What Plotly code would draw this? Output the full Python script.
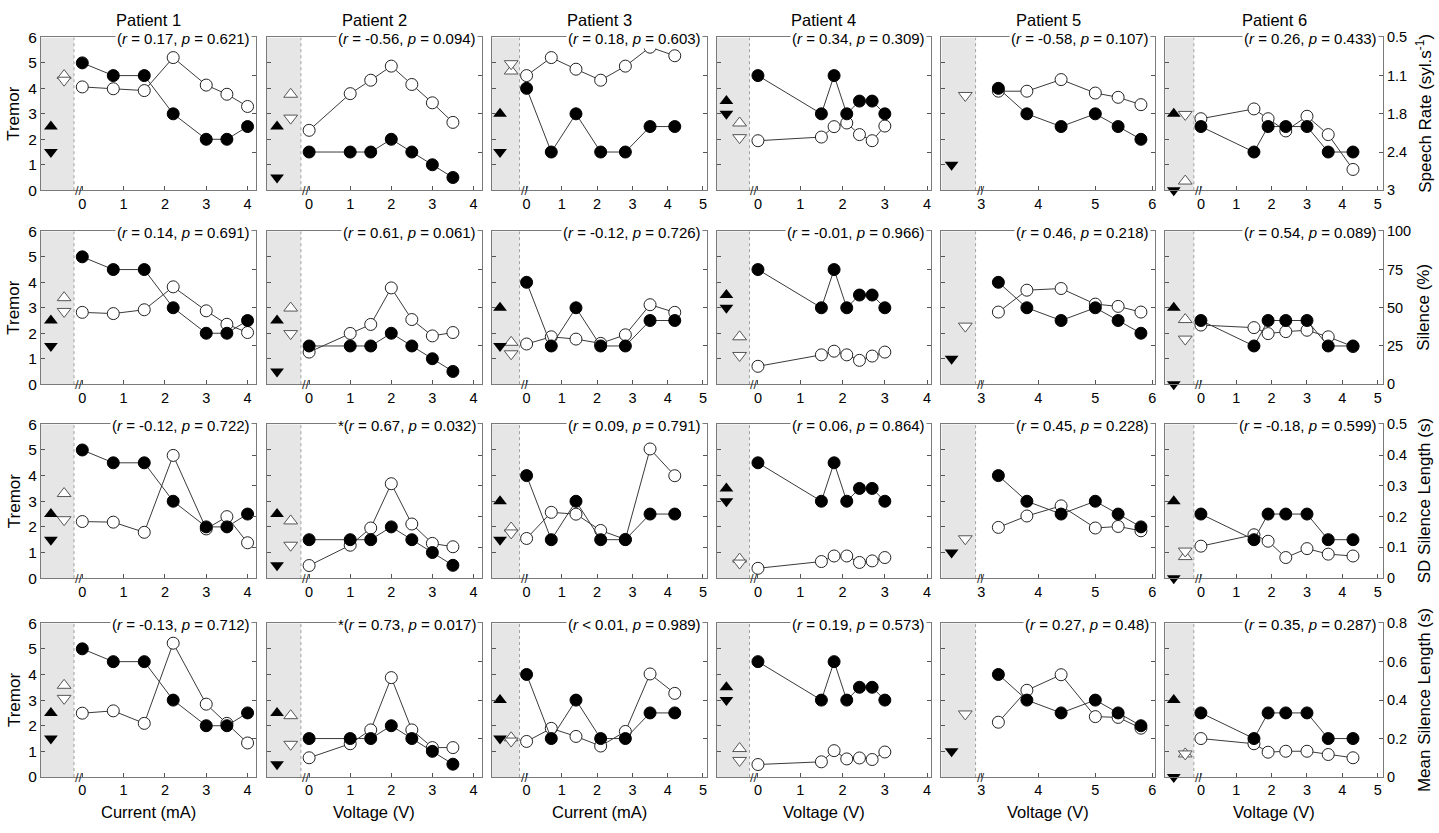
import plotly.graph_objects as go

W, H = 1439, 833

PATIENTS = ['Patient 1', 'Patient 2', 'Patient 3', 'Patient 4', 'Patient 5', 'Patient 6']
X_TITLES = ['Current (mA)', 'Voltage (V)', 'Current (mA)', 'Voltage (V)', 'Voltage (V)', 'Voltage (V)']
ROW_TITLES = ['Speech Rate (syl.s<sup>-1</sup>)', 'Silence (%)', 'SD Silence Length (s)',
              'Mean Silence Length (s)']

# stimulation amplitude per patient
amp_p1 = [0, 0.75, 1.5, 2.2, 3, 3.5, 4]
amp_p2 = [0, 1, 1.5, 2, 2.5, 3, 3.5]
amp_p3 = [0, 0.7, 1.4, 2.1, 2.8, 3.5, 4.2]
amp_p4 = [0, 1.5, 1.8, 2.1, 2.4, 2.7, 3]
amp_p5 = [3.3, 3.8, 4.4, 5.0, 5.4, 5.8]
amp_p6 = [0, 1.5, 1.9, 2.4, 3.0, 3.6, 4.3]
amps = [amp_p1, amp_p2, amp_p3, amp_p4, amp_p5, amp_p6]

# tremor score (filled circles)
tremor_p1 = [5, 4.5, 4.5, 3, 2, 2, 2.5]
tremor_p2 = [1.5, 1.5, 1.5, 2, 1.5, 1, 0.5]
tremor_p3 = [4, 1.5, 3, 1.5, 1.5, 2.5, 2.5]
tremor_p4 = [4.5, 3, 4.5, 3, 3.5, 3.5, 3]
tremor_p5 = [4, 3, 2.5, 3, 2.5, 2]
tremor_p6 = [2.5, 1.5, 2.5, 2.5, 2.5, 1.5, 1.5]
tremors = [tremor_p1, tremor_p2, tremor_p3, tremor_p4, tremor_p5, tremor_p6]

# tremor with stimulation off (filled triangles up / down)
off_tremor_up = [2.5, 2.5, 3, 3.5, None, 3]
off_tremor_down = [1.5, 0.5, 1.5, 3, 1, 0]

# speech measures (open circles), one list per patient
speech_rate = [
    [1.31, 1.34, 1.37, 0.83, 1.28, 1.43, 1.63],
    [2.02, 1.42, 1.20, 0.97, 1.27, 1.57, 1.89],
    [1.125, 0.83, 1.02, 1.20, 0.97, 0.66, 0.80],
    [2.19, 2.13, 1.96, 1.90, 2.09, 2.19, 1.95],
    [1.38, 1.38, 1.19, 1.41, 1.48, 1.60],
    [1.83, 1.67, 1.83, 2.03, 1.79, 2.09, 2.66],
]
speech_rate_off_up = [1.125, 1.43, 1.05, 1.90, None, 2.85]
speech_rate_off_down = [1.20, 1.82, 0.93, 2.14, 1.45, 1.76]

silence = [
    [47, 46.2, 48.7, 63.7, 48, 39.2, 33.8],
    [21, 33.2, 39.1, 63, 42.3, 31.6, 33.8],
    [26.3, 31, 29.5, 26.7, 32.3, 52, 47],
    [11.7, 19.2, 21.6, 19.2, 15.6, 18.4, 21],
    [47.2, 61.5, 62.6, 52.4, 50.9, 47.2],
    [38.7, 37, 33.1, 34.4, 35.3, 31, 24.6],
]
silence_off_up = [56.6, 49.8, 27.4, 31, None, 42.3]
silence_off_down = [47.6, 33.1, 19.9, 18.8, 38, 29.5]

sd_silence = [
    [0.184, 0.182, 0.149, 0.399, 0.16, 0.2, 0.115],
    [0.041, 0.107, 0.163, 0.307, 0.176, 0.113, 0.102],
    [0.129, 0.214, 0.208, 0.155, 0.126, 0.42, 0.333],
    [0.032, 0.054, 0.072, 0.072, 0.051, 0.056, 0.067],
    [0.165, 0.202, 0.235, 0.163, 0.168, 0.154],
    [0.104, 0.141, 0.12, 0.067, 0.096, 0.078, 0.072],
]
sd_silence_off_up = [0.275, 0.186, 0.163, 0.062, None, 0.07]
sd_silence_off_down = [0.19, 0.107, 0.147, 0.049, 0.128, 0.088]

mean_silence = [
    [0.332, 0.344, 0.279, 0.696, 0.379, 0.279, 0.177],
    [0.1, 0.173, 0.245, 0.517, 0.245, 0.153, 0.153],
    [0.185, 0.253, 0.211, 0.161, 0.237, 0.536, 0.435],
    [0.065, 0.079, 0.137, 0.094, 0.099, 0.091, 0.13],
    [0.285, 0.451, 0.532, 0.314, 0.31, 0.254],
    [0.2, 0.173, 0.129, 0.134, 0.134, 0.117, 0.1],
]
mean_silence_off_up = [0.477, 0.319, 0.204, 0.148, None, 0.12]
mean_silence_off_down = [0.409, 0.17, 0.187, 0.086, 0.328, 0.12]

# correlation stats: (significance mark, r, p)
stats_speech_rate = [('', '= 0.17', '0.621'), ('', '= -0.56', '0.094'), ('', '= 0.18', '0.603'),
                     ('', '= 0.34', '0.309'), ('', '= -0.58', '0.107'), ('', '= 0.26', '0.433')]
stats_silence = [('', '= 0.14', '0.691'), ('', '= 0.61', '0.061'), ('', '= -0.12', '0.726'),
                 ('', '= -0.01', '0.966'), ('', '= 0.46', '0.218'), ('', '= 0.54', '0.089')]
stats_sd_silence = [('', '= -0.12', '0.722'), ('*', '= 0.67', '0.032'), ('', '= 0.09', '0.791'),
                    ('', '= 0.06', '0.864'), ('', '= 0.45', '0.228'), ('', '= -0.18', '0.599')]
stats_mean_silence = [('', '= -0.13', '0.712'), ('*', '= 0.73', '0.017'), ('', '< 0.01', '0.989'),
                      ('', '= 0.19', '0.573'), ('', '= 0.27', '0.48'), ('', '= 0.35', '0.287')]

measures = [speech_rate, silence, sd_silence, mean_silence]
measures_off_up = [speech_rate_off_up, silence_off_up, sd_silence_off_up, mean_silence_off_up]
measures_off_down = [speech_rate_off_down, silence_off_down, sd_silence_off_down, mean_silence_off_down]
stats = [stats_speech_rate, stats_silence, stats_sd_silence, stats_mean_silence]

# right axis scales per row
M_RANGE = [[3, 0.5], [0, 100], [0, 0.5], [0, 0.8]]
M_TICKS = [[0.5, 1.125, 1.75, 2.375, 3], [0, 25, 50, 75, 100],
           [0, 0.1, 0.2, 0.3, 0.4, 0.5], [0, 0.2, 0.4, 0.6, 0.8]]
M_TICKTEXT = [['0.5', '1.1', '1.8', '2.4', '3'], ['0', '25', '50', '75', '100'],
              ['0', '0.1', '0.2', '0.3', '0.4', '0.5'], ['0', '0.2', '0.4', '0.6', '0.8']]

# x axis: (left of grey off-panel, axis break, right) in data units, and ticks
X_RANGE = [(-1.0, -0.2, 4.2), (-1.03, -0.2, 4.2), (-0.99, -0.2, 5.1),
           (-0.98, -0.2, 4.1), (2.30, 2.9, 6.05), (-1.01, -0.2, 5.15)]
X_TICKS = [[0, 1, 2, 3, 4], [0, 1, 2, 3, 4], [0, 1, 2, 3, 4, 5],
           [0, 1, 2, 3, 4], [3, 4, 5, 6], [0, 1, 2, 3, 4, 5]]

# layout in pixels
COL_PX = [(41, 256), (267, 482), (492, 707), (717, 932), (942, 1156), (1166, 1384)]
ROW_PX = [(29, 185), (227, 383), (424, 581), (627, 784)]

FONT = 'Arial, Liberation Sans, sans-serif'
LINE_C = '#7a7a7a'
TICK_C = '#555555'
MSIZE = 12

fig = go.Figure()
layout = {}
shapes = []
annotations = []


def sfx(n):
    return '' if n == 1 else str(n)


def label(x_px, y_px, text, size, angle=0):
    return dict(x=x_px / W, y=1 - y_px / H, xref='paper', yref='paper', text=text,
                xanchor='center', yanchor='middle', textangle=angle, showarrow=False,
                font=dict(size=size, color='black'))


for r in range(4):
    for c in range(6):
        k = r * 6 + c + 1
        ym, yt = 2 * k - 1, 2 * k
        xref, ymref, ytref = 'x' + sfx(k), 'y' + sfx(ym), 'y' + sfx(yt)
        x_lo, x_brk, x_hi = X_RANGE[c]
        pl, pr = COL_PX[c]
        top, bot = ROW_PX[r]

        layout['xaxis' + sfx(k)] = dict(
            domain=[pl / W, pr / W], range=[x_lo, x_hi], anchor=ymref,
            tickvals=X_TICKS[c], ticks='inside', ticklen=4, tickcolor=TICK_C,
            showline=True, mirror=True, linecolor=LINE_C, linewidth=1,
            showgrid=False, zeroline=False, tickfont=dict(size=14.5, color='black'))
        layout['yaxis' + sfx(ym)] = dict(
            domain=[1 - bot / H, 1 - top / H], range=M_RANGE[r], anchor=xref, side='right',
            tickvals=M_TICKS[r], ticktext=M_TICKTEXT[r], ticks='inside', ticklen=4,
            tickcolor=TICK_C, showticklabels=(c == 5), showline=True, linecolor=LINE_C,
            showgrid=False, zeroline=False, tickfont=dict(size=14.5, color='black'))
        layout['yaxis' + sfx(yt)] = dict(
            range=[0, 6], overlaying=ymref, anchor=xref, side='left',
            tickvals=[0, 1, 2, 3, 4, 5, 6], ticks='inside', ticklen=4, tickcolor=TICK_C,
            showticklabels=(c == 0), showline=True, linecolor=LINE_C,
            showgrid=False, zeroline=False, tickfont=dict(size=15.5, color='black'))

        # grey "stimulation off" panel
        shapes.append(dict(type='rect', xref=xref, yref=ytref, x0=x_lo, x1=x_brk, y0=0, y1=6,
                           fillcolor='#e6e6e6', line=dict(width=0), layer='below'))
        shapes.append(dict(type='line', xref=xref, yref=ytref, x0=x_brk, x1=x_brk, y0=0, y1=6,
                           line=dict(color='#a0a0a0', width=1, dash='dot'), layer='below'))
        annotations.append(dict(x=x_brk, y=0, xref=xref, yref=ytref, text='//', showarrow=False,
                                xanchor='center', yanchor='middle', xshift=5,
                                font=dict(size=13, color='#333')))

        x_fill = x_lo + 0.3 * (x_brk - x_lo)
        x_open = x_lo + 0.7 * (x_brk - x_lo)

        # open circles: speech measure on right axis
        fig.add_trace(go.Scatter(
            x=amps[c], y=measures[r][c], xaxis=xref, yaxis=ymref, mode='lines+markers',
            line=dict(color='#3a3a3a', width=1),
            marker=dict(symbol='circle', size=MSIZE, color='white', line=dict(color='#222', width=1))))
        for vals, sym in [(measures_off_up[r], 'triangle-up'), (measures_off_down[r], 'triangle-down')]:
            if vals[c] is not None:
                fig.add_trace(go.Scatter(
                    x=[x_open], y=[vals[c]], xaxis=xref, yaxis=ymref, mode='markers',
                    cliponaxis=False,
                    marker=dict(symbol=sym, size=MSIZE, color='white', line=dict(color='#555', width=1))))

        # filled circles: tremor on left axis
        fig.add_trace(go.Scatter(
            x=amps[c], y=tremors[c], xaxis=xref, yaxis=ytref, mode='lines+markers',
            line=dict(color='#3a3a3a', width=1),
            marker=dict(symbol='circle', size=MSIZE, color='black', line=dict(color='black', width=1))))
        for vals, sym in [(off_tremor_up, 'triangle-up'), (off_tremor_down, 'triangle-down')]:
            if vals[c] is not None:
                fig.add_trace(go.Scatter(
                    x=[x_fill], y=[vals[c]], xaxis=xref, yaxis=ytref, mode='markers',
                    cliponaxis=False, marker=dict(symbol=sym, size=MSIZE, color='black')))

        star, rv, pv = stats[r][c]
        annotations.append(dict(
            x=(pr - 4) / W, y=1 - (top + 1) / H, xref='paper', yref='paper',
            xanchor='right', yanchor='middle', showarrow=False, bgcolor='white',
            text='%s(<i>r</i> %s, <i>p</i> = %s)' % (star, rv, pv),
            font=dict(size=15, color='black')))

for c in range(6):
    pl, pr = COL_PX[c]
    annotations.append(label((pl + pr) / 2, 11, PATIENTS[c], 16.5))
    annotations.append(label((pl + pr) / 2, 820, X_TITLES[c], 16.5))

for r in range(4):
    top, bot = ROW_PX[r]
    mid = (top + bot) / 2
    annotations.append(label(14, mid, 'Tremor', 17, -90))
    annotations.append(label(1425, mid, ROW_TITLES[r], 17, -90))

fig.update_layout(**layout)
fig.update_layout(
    width=W, height=H, margin=dict(l=0, r=0, t=0, b=0),
    paper_bgcolor='white', plot_bgcolor='white', showlegend=False,
    font=dict(family=FONT, color='black'),
    shapes=shapes, annotations=annotations)

# the page body has a default margin; remove it so the figure fills the window
fig.write_html('out.html', config={'displayModeBar': False},
               post_script="document.body.style.margin='0px';"
                           "document.body.style.overflow='hidden';")
